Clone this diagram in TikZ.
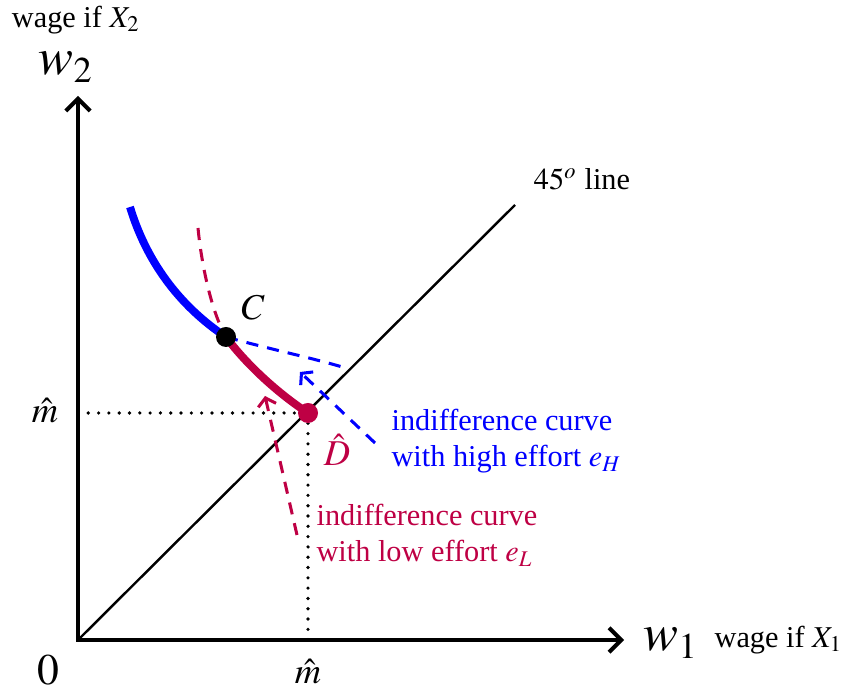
\documentclass[tikz,border=0pt]{standalone}
\usepackage{mathptmx}
\usepackage{fontspec}
\setmainfont{Liberation Serif}
\usetikzlibrary{arrows.meta}
\definecolor{bluec}{RGB}{0,0,255}
\definecolor{redc}{RGB}{190,0,68}
\begin{document}
\begin{tikzpicture}[x=0.33pt,y=0.33pt,
  axis/.style={line width=1.3pt,-{Straight Barb[length=4pt,width=8pt,line width=1.3pt]}},
  thickcurve/.style={line width=2.6pt},
  dashcurve/.style={line width=1pt,dash pattern=on 4pt off 3pt},
  leader/.style={line width=1pt,dash pattern=on 4pt off 3pt,-{Straight Barb[length=2.5pt,width=6pt,line width=1pt]}},
  guide/.style={line width=1.2pt,dash pattern=on 0pt off 3.4pt,line cap=round},
  lbl/.style={inner sep=0pt},
  dot/.style={circle,inner sep=0pt,minimum size=6.6pt}]
\useasboundingbox (-78,-55) rectangle (764,640);
\coordinate (O) at (0,0);
\coordinate (ytip) at (0,544);
\coordinate (xtip) at (546,0);
\coordinate (L45) at (437,435);
\coordinate (Bend) at (271,271);
\coordinate (Bstart) at (52,433);
\coordinate (Rstart) at (120,412);
\coordinate (ByAx) at (0,227);
\coordinate (BxAx) at (230,0);
\coordinate (BL1) at (297,197);
\coordinate (BL2) at (222,268);
\coordinate (RL1) at (219,105);
\coordinate (RL2) at (187,244);
% 45 degree line
\draw[line width=0.8pt] (O) -- (L45);
% dotted guides
\draw[guide] (ByAx) -- (230,227);
\draw[guide] (230,227) -- (BxAx);
% blue curve
\draw[bluec,thickcurve] (Bstart) .. controls (68,380) and (100,335) .. (148,303);
\draw[bluec,dashcurve] (148,303) .. controls (195,290) and (235,282) .. (Bend);
% red curve
\draw[redc,dashcurve] (Rstart) .. controls (124,370) and (135,325) .. (148,303);
\draw[redc,thickcurve] (148,303) .. controls (165,280) and (195,250) .. (230,227);
% leaders
\draw[bluec,leader] (BL1) -- (BL2);
\draw[redc,leader] (RL1) -- (RL2);
% dots
\node[dot,fill=black] (C) at (148,303) {};
\node[dot,fill=redc] (D) at (230,227) {};
% axes
\draw[axis] (0,-2) -- (ytip);
\draw[axis] (-2,0) -- (xtip);
% labels
\node[lbl] (wy) at (-12,573) {\LARGE $w_2$};
\node[lbl] (wyt) at (-2,620) {wage if $X_2$};
\node[lbl,anchor=west] (wx) at (565,-3) {\LARGE $w_1$};
\node[lbl,anchor=west] (wxt) at (636,0) {wage if $X_1$};
\node[lbl] (zero) at (-30,-30) {\Large $0$};
\node[lbl] (m1) at (-33,229) {\large $\hat m$};
\node[lbl] (m2) at (230,-32) {\large $\hat m$};
\node[lbl] (Cl) at (175,332) {\large $C$};
\node[lbl,text=redc] (Dl) at (259,190) {\large $\hat D$};
\node[lbl] (l45) at (504,461) {$45^{o}$ line};
\node[lbl,anchor=west,text=bluec,align=left] (bt) at (313,199) {indifference curve\\with high effort $e_H$};
\node[lbl,anchor=west,text=redc,align=left] (rt) at (238,105) {indifference curve\\with low effort $e_L$};
\end{tikzpicture}
\end{document}
